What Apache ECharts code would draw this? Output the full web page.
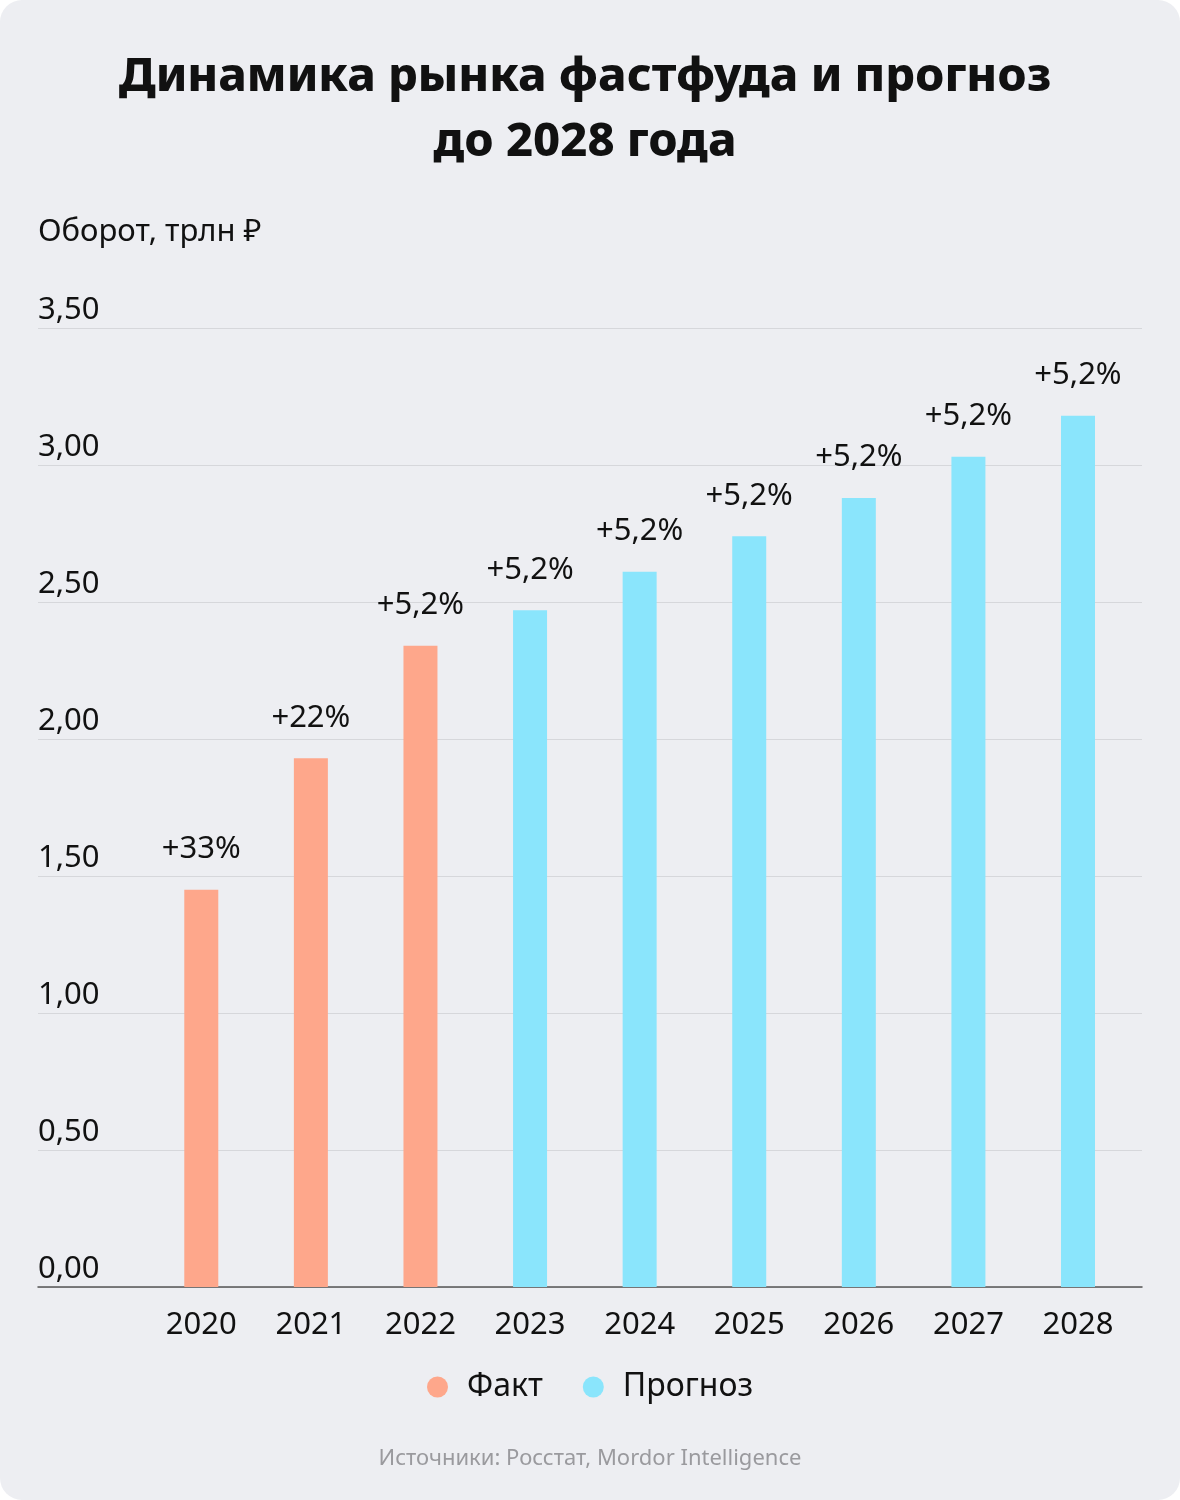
<!DOCTYPE html>
<html>
<head>
<meta charset="utf-8">
<script src="https://cdn.jsdelivr.net/npm/echarts@6/dist/echarts.min.js"></script>
<style>
  html, body { margin: 0; padding: 0; background: #ffffff; }
  #card { width: 1180px; height: 1500px; background: #edeef2; border-radius: 22px; overflow: hidden; }
  #chart { width: 1180px; height: 1500px; }
</style>
</head>
<body>
<div id="card"><div id="chart"></div></div>
<script>
const titleText = 'Динамика рынка фастфуда и прогноз\nдо 2028 года';
const axisNameText = 'Оборот, трлн ₽';
const sourceText = 'Источники: Росстат, Mordor Intelligence';
const years = [2020, 2021, 2022, 2023, 2024, 2025, 2026, 2027, 2028];
const values = [1.45, 1.93, 2.34, 2.47, 2.61, 2.74, 2.88, 3.03, 3.18];
const growth = ['+33%', '+22%', '+5,2%', '+5,2%', '+5,2%', '+5,2%', '+5,2%', '+5,2%', '+5,2%'];
const kind = ['Факт', 'Факт', 'Факт', 'Прогноз', 'Прогноз', 'Прогноз', 'Прогноз', 'Прогноз', 'Прогноз'];
const seriesNames = ['Факт', 'Прогноз'];
const seriesColors = ['#fea78b', '#8ae5fc'];

const FONT = 'Noto Sans';
const chart = echarts.init(document.getElementById('chart'), null, { renderer: 'canvas' });

const series = seriesNames.map((name, si) => ({
  name: name,
  type: 'bar',
  barWidth: 34,
  barGap: '-100%',
  itemStyle: { color: seriesColors[si] },
  label: {
    show: true,
    position: 'top',
    distance: 25,
    color: '#111',
    fontFamily: FONT,
    fontSize: 31,
    formatter: p => growth[years.indexOf(p.value[0])]
  },
  data: years.map((y, i) => kind[i] === name ? [y, values[i]] : null).filter(d => d)
}));

chart.setOption({
  backgroundColor: 'transparent',
  animation: false,
  textStyle: { fontFamily: FONT },
  title: [
    {
      text: titleText,
      left: 585,
      top: 45,
      padding: 0,
      textAlign: 'center',
      textStyle: { fontFamily: FONT, fontSize: 47, fontWeight: 800, color: '#111', lineHeight: 65 }
    },
    {
      text: axisNameText,
      left: 38,
      top: 217,
      padding: 0,
      textStyle: { fontFamily: FONT, fontSize: 31, fontWeight: 'normal', color: '#111' }
    },
    {
      text: sourceText,
      left: 590,
      top: 1448,
      padding: 0,
      textAlign: 'center',
      textStyle: { fontFamily: FONT, fontSize: 22, fontWeight: 'normal', color: '#9a9a9e' }
    }
  ],
  legend: {
    data: seriesNames,
    left: 'center',
    top: 1366,
    icon: 'circle',
    itemWidth: 21,
    itemHeight: 21,
    itemGap: 40,
    textStyle: { fontFamily: FONT, fontSize: 32, color: '#111', padding: [0, 0, 0, 14] }
  },
  grid: { left: 38, right: 38, top: 328, bottom: 213, containLabel: false },
  xAxis: {
    type: 'value',
    min: 2018.51,
    max: 2028.584,
    axisLine: { show: true, onZero: false, lineStyle: { color: '#555', width: 1.5 } },
    axisTick: { show: false },
    splitLine: { show: false },
    axisLabel: {
      customValues: years,
      formatter: v => String(v),
      margin: 23,
      fontFamily: FONT,
      fontSize: 31,
      color: '#111'
    }
  },
  yAxis: {
    type: 'value',
    min: 0,
    max: 3.5,
    interval: 0.5,
    axisLine: { show: false },
    axisTick: { show: false },
    splitLine: { show: true, lineStyle: { color: '#d6d7db', width: 1 } },
    axisLabel: {
      inside: true,
      margin: 0,
      align: 'left',
      verticalAlign: 'bottom',
      padding: [0, 0, 2, 0],
      fontFamily: FONT,
      fontSize: 31,
      color: '#111',
      formatter: v => v.toFixed(2).replace('.', ',')
    }
  },
  series: series
});
</script>
</body>
</html>
